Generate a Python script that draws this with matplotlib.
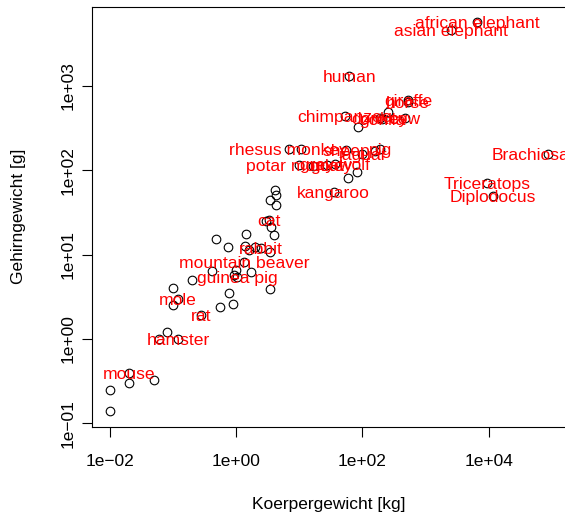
import numpy as np
import matplotlib
matplotlib.use("Agg")
import matplotlib.pyplot as plt

plt.rcParams["font.family"] = ["Liberation Sans", "DejaVu Sans"]

# Species drawn with a red name (body weight in kg, brain weight in g)
named_species = ["mountain beaver", "cow", "grey wolf", "goat", "guinea pig",
                 "Diplodocus", "asian elephant", "donkey", "horse", "potar monkey",
                 "cat", "giraffe", "gorilla", "human", "african elephant",
                 "Triceratops", "rhesus monkey", "kangaroo", "hamster", "mouse",
                 "rabbit", "sheep", "jaguar", "chimpanzee", "rat",
                 "Brachiosaurus", "mole", "pig"]
named_body = [1.35, 465, 36.33, 27.66, 1.04,
              11700, 2547, 187.1, 521, 10,
              3.3, 529, 207, 62, 6654,
              9400, 6.8, 35, 0.12, 0.02,
              2.5, 55.5, 100, 52.16, 0.28,
              87000, 0.12, 192]
named_brain = [8.1, 423, 119.5, 115, 5.5,
               50, 4603, 419, 655, 115,
               25.6, 680, 406, 1320, 5712,
               70, 179, 56, 1.0, 0.4,
               12.1, 175, 157, 440, 1.9,
               154.5, 3.0, 180]

# Further mammals, drawn as points only
other_body = [3.385, 0.48, 16.7, 4.19, 0.42, 0.1, 0.92, 1.0, 0.01, 0.06,
              3.5, 2.0, 1.7, 0.02, 0.78, 0.2, 1.41, 85, 0.75, 3.5,
              4.05, 0.01, 1.4, 250, 10.55, 0.55, 60, 3.6, 4.29, 0.08,
              0.05, 160, 0.9, 1.62, 0.1, 4.24, 3.0, 81]
other_brain = [44.5, 15.5, 112, 58, 6.4, 4.0, 5.7, 6.6, 0.14, 1.0,
               10.8, 12.3, 6.3, 0.3, 3.5, 5.0, 17.5, 325, 12.3, 3.9,
               17, 0.25, 12.5, 490, 179.5, 2.4, 81, 21, 39.2, 1.2,
               0.33, 169, 2.6, 11.4, 2.5, 50.4, 25, 96]

x_ticks = [1e-2, 1e0, 1e2, 1e4]
x_ticklabels = ["1e\u221202", "1e+00", "1e+02", "1e+04"]
y_ticks = [1e-1, 1e0, 1e1, 1e2, 1e3]
y_ticklabels = ["1e\u221201", "1e+00", "1e+01", "1e+02", "1e+03"]

W, H = 565, 517
fig = plt.figure(figsize=(W / 100, H / 100), dpi=100)
left, right, top, bottom = 92.3, 565.5, 6.7, 426.5
ax = fig.add_axes([left / W, 1 - bottom / H, (right - left) / W, (bottom - top) / H])

body = np.array(named_body + other_body, dtype=float)
brain = np.array(named_brain + other_brain, dtype=float)

ax.plot(body, brain, linestyle="none", marker="o", markersize=6.2,
        markerfacecolor="none", markeredgecolor="black", markeredgewidth=0.8,
        zorder=2)

for name, bx, by in zip(named_species, named_body, named_brain):
    ax.text(bx, by, name, color="#FF0000", fontsize=12.6, ha="center",
            va="center_baseline", zorder=3, clip_on=True)

ax.set_xscale("log")
ax.set_yscale("log")


def padded(vals):
    lv = np.log10(vals)
    lo, hi = lv.min(), lv.max()
    pad = 0.04 * (hi - lo)
    return 10 ** (lo - pad), 10 ** (hi + pad)


ax.set_xlim(*padded(body))
ax.set_ylim(*padded(brain))

ax.set_xticks(x_ticks)
ax.set_xticklabels(x_ticklabels)
ax.set_yticks(y_ticks)
ax.set_yticklabels(y_ticklabels, rotation=90, va="center")
ax.minorticks_off()
ax.tick_params(axis="both", direction="out", length=7.5, width=0.8,
               labelsize=12.5, colors="black")
ax.tick_params(axis="x", pad=12)
ax.tick_params(axis="y", pad=4.5)

for sp in ax.spines.values():
    sp.set_linewidth(0.8)
    sp.set_color("black")

fig.text(329 / W, 1 - 504 / H, "Koerpergewicht [kg]", ha="center", va="center",
         fontsize=12.5)
fig.text(19 / W, 1 - 216.6 / H, "Gehirngewicht [g]", ha="center", va="center",
         rotation=90, fontsize=12.5)

fig.savefig("out.png", dpi=100)
